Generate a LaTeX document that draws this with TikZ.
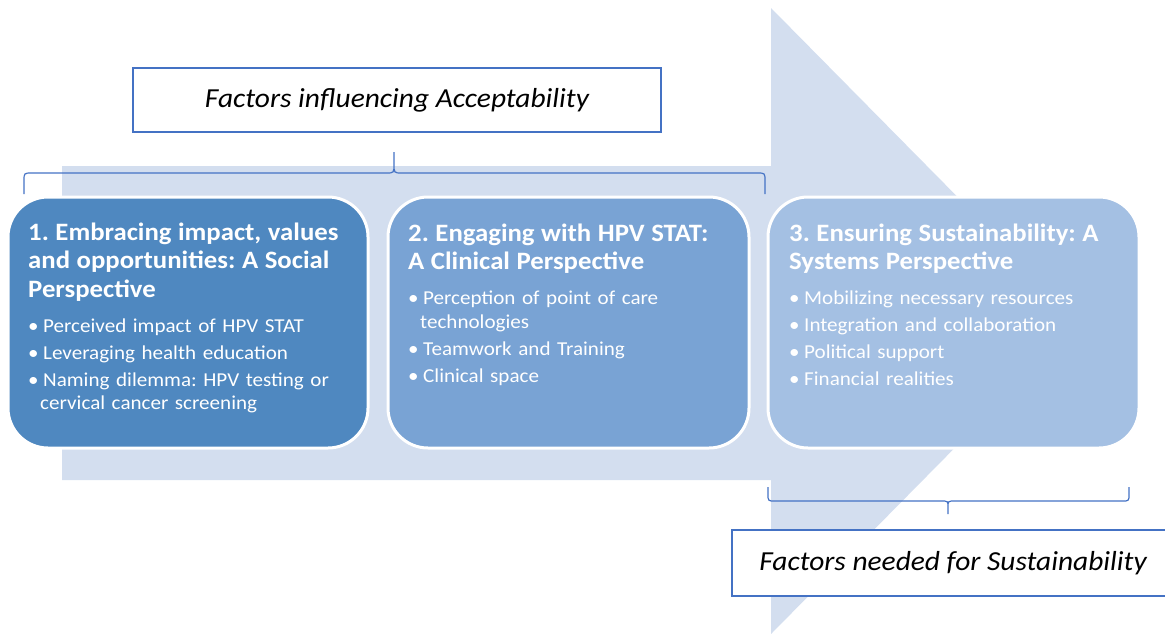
\documentclass[tikz,border=0pt]{standalone}
\usepackage{fontspec}
\setmainfont{Carlito}[FakeStretch=1.07]
\frenchspacing
\definecolor{arrowbg}{HTML}{D3DEEF}
\definecolor{stageA}{HTML}{4F88C0}
\definecolor{stageB}{HTML}{79A3D4}
\definecolor{stageC}{HTML}{A4C0E3}
\definecolor{edge}{HTML}{4472C4}
\newcommand{\ttl}{\fontsize{25}{28.5}\selectfont\bfseries}
\newcommand{\itm}[1]{\par\vspace{3.5pt}\hangindent=12pt\hangafter=1\makebox[15pt][l]{\textbullet}#1\par}
\tikzset{
  stage/.style={draw=white, line width=3pt, rounded corners=40pt, minimum height=251pt, inner sep=0pt},
  stagetext/.style={anchor=base west, inner sep=0pt, text=white, align=left, font=\fontsize{19.7}{23.5}\selectfont},
  factor/.style={draw=edge, line width=2.5pt, fill=white, inner sep=0pt, font=\fontsize{27.5}{30}\selectfont\itshape},
  curly/.style={draw=edge, line width=1.2pt}
}
\begin{document}
\begin{tikzpicture}[x=1pt, y=-1pt]
      \useasboundingbox (0,0) rectangle (1165,633);
      \clip (0,0) rectangle (1165,633);
      \fill[arrowbg] (62,166) -- (771,166) -- (771,8) -- (1080,321)
        -- (771,634) -- (771,480) -- (62,480) -- cycle;
      \node[factor, minimum width=528pt, minimum height=64pt] (acc) at (397,100) {Factors influencing Acceptability};
      \draw[curly] (24,194) -- (24,181) .. controls (24,173) .. (32,173) -- (386,173)
        .. controls (394,173) .. (394,164) -- (394,152) -- (394,164)
        .. controls (394,173) .. (402,173) -- (757,173) .. controls (765,173) .. (765,181) -- (765,194);
      \node[stage, fill=stageA, minimum width=360pt] (s1) at (188,322.5) {};
      \node[stage, fill=stageB, minimum width=361pt] (s2) at (568.5,322.5) {};
      \node[stage, fill=stageC, minimum width=371pt] (s3) at (953.5,322.5) {};
      \node[stagetext, text width=330pt] (t1) at (28,240) {{\ttl 1. Embracing impact, values\\and opportunities: A Social\\Perspective\par}\vspace{8pt}
        \itm{Perceived impact of HPV STAT}
        \itm{Leveraging health education}
        \itm{Naming dilemma: HPV testing or\newline cervical cancer screening}};
      \node[stagetext, text width=330pt] (t2) at (408,241) {{\ttl 2. Engaging with HPV STAT:\\A Clinical Perspective\par}\vspace{8pt}
        \itm{Perception of point of care\newline technologies}
        \itm{Teamwork and Training}
        \itm{Clinical space}};
      \node[stagetext, text width=340pt] (t3) at (789,241) {{\ttl 3. Ensuring Sustainability: A\\Systems Perspective\par}\vspace{8pt}
        \itm{Mobilizing necessary resources}
        \itm{Integration and collaboration}
        \itm{Political support}
        \itm{Financial realities}};
      \draw[curly] (768,487) -- (768,494) .. controls (768,501) .. (775,501) -- (941,501)
        .. controls (948,501) .. (948,507) -- (948,514) -- (948,507)
        .. controls (948,501) .. (955,501) -- (1122,501) .. controls (1129,501) .. (1129,494) -- (1129,487);
      \node[factor, minimum width=442pt, minimum height=66pt] (sus) at (953,563) {Factors needed for Sustainability};
    \end{tikzpicture}
\end{document}
